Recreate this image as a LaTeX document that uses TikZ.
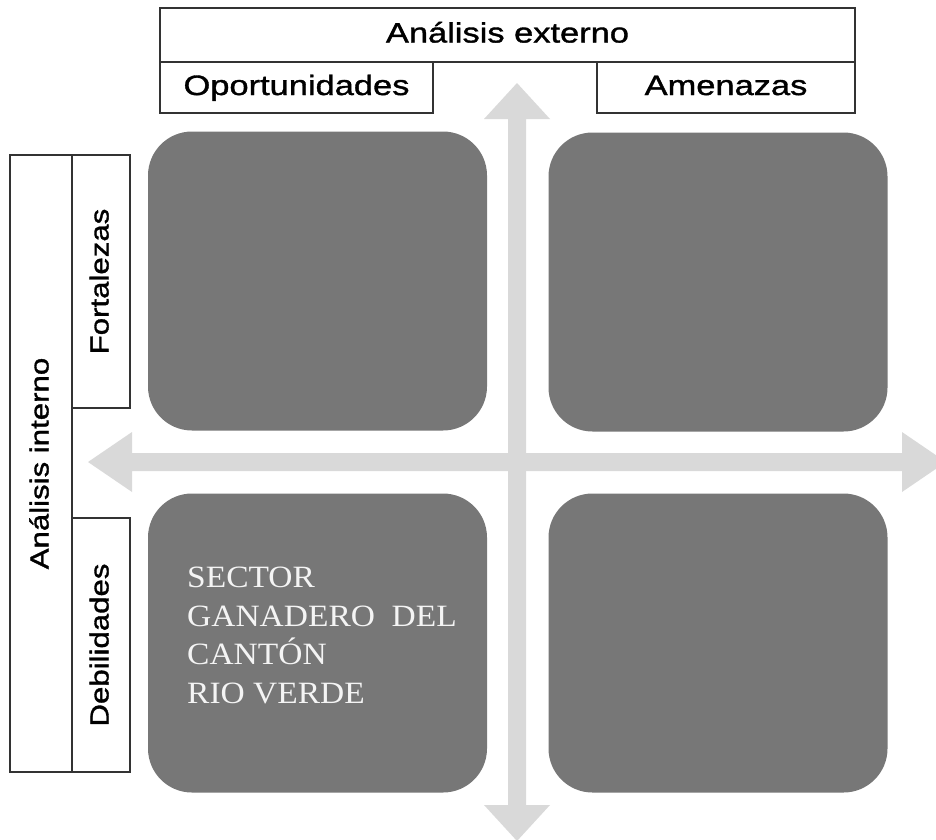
\documentclass[tikz,border=0pt]{standalone}
\usepackage{fontspec}
\setmainfont{Liberation Sans}
\newfontfamily\labfont[FakeStretch=1.23,FakeBold=1.3]{Liberation Sans}
\newfontfamily\vlabfont[FakeStretch=1.2,FakeBold=1.3]{Liberation Sans}
\newfontfamily\quadfont[FakeStretch=1.08]{Liberation Serif}
\definecolor{quadgray}{HTML}{777777}
\definecolor{arrowgray}{HTML}{D9D9D9}
\definecolor{linegray}{HTML}{333333}
\definecolor{quadtext}{HTML}{F4F4F4}
\begin{document}
\begin{tikzpicture}[x=1pt,y=-1pt,
  lbl/.style={draw=linegray, line width=1.3pt, fill=white, inner sep=0pt,
    font=\labfont\fontsize{28}{32}\selectfont, text=black,
    text height=20pt, text depth=5pt},
  vlbl/.style={lbl, rotate=90, font=\vlabfont\fontsize{26}{30}\selectfont},
  quad/.style={fill=quadgray, rounded corners=44pt, inner sep=0pt,
    minimum width=339, minimum height=299},
  crossarrow/.style={fill=arrowgray, draw=none}]
\useasboundingbox (0,0) rectangle (936,839);
\clip (0,0) rectangle (936,839);
% cross arrows
\fill[crossarrow] (88,462) -- (132,432) -- (132,453) -- (902,453) -- (902,432)
  -- (946,462) -- (902,492) -- (902,471) -- (132,471) -- (132,492) -- cycle;
\fill[crossarrow] (517,83) -- (550,119) -- (526,119) -- (526,805) -- (550,805)
  -- (517,841) -- (484,805) -- (508,805) -- (508,119) -- (484,119) -- cycle;
% quadrants
\node[quad] (fo) at (317.5,281) {};
\node[quad] (ao) at (718,282) {};
\node[quad] (do) at (317.5,643) {};
\node[quad] (da) at (718,643) {};
\node[anchor=north west, inner sep=0pt, align=left, text=quadtext,
  font=\quadfont\fontsize{31}{38.5}\selectfont] (txt) at (187,567)
  {SECTOR\\GANADERO\ \ DEL\\CANTÓN\\RIO VERDE};
% headers
\node[lbl, minimum width=695, minimum height=54] (ext) at (507.5,35) {Análisis externo};
\node[lbl, minimum width=273, minimum height=51] (opo) at (296.5,87.5) {Oportunidades};
\node[lbl, minimum width=258, minimum height=51] (ame) at (726,87.5) {Amenazas};
\node[vlbl, minimum width=617, minimum height=62] (int) at (41,463.5) {Análisis interno};
\node[vlbl, minimum width=253, minimum height=58] (fort) at (101,281.5) {Fortalezas};
\node[vlbl, minimum width=254, minimum height=58] (deb) at (101,645) {Debilidades};
\end{tikzpicture}
\end{document}
